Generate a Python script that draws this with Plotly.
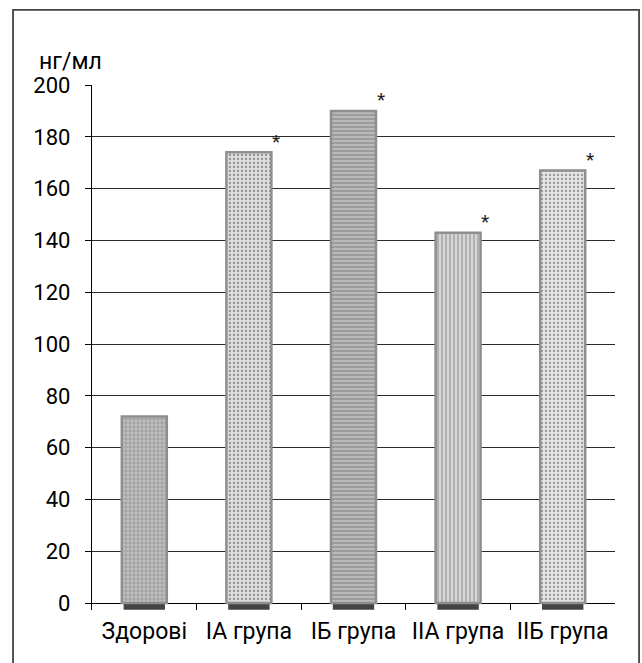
import plotly.graph_objects as go

categories = ["Здорові", "IA група", "IБ група", "IIA група", "IIБ група"]
values = [72, 174, 190, 143, 167]
significant = [False, True, True, True, True]
y_ticks = [0, 20, 40, 60, 80, 100, 120, 140, 160, 180, 200]
unit_label = "нг/мл"

# styles
FONT = "Roboto"
bar_colors = ["#c0c0c0", "#dddddd", "#b9b9b9", "#d6d6d6", "#e5e5e5"]
pattern_fg = ["#a8a8a8", "#cecece", "#a0a0a0", "#c4c4c4", "#d8d8d8"]
pattern_shapes = ["+", ".", "-", "|", "."]
SHADOW_DEPTH = 2.6
Y_BOTTOM = -2.7
BAR_WIDTH = 0.43

fig = go.Figure()

# soft shadow under each bar
fig.add_trace(go.Bar(
    x=categories,
    y=[SHADOW_DEPTH] * len(categories),
    base=[-SHADOW_DEPTH] * len(categories),
    width=BAR_WIDTH * 0.92,
    marker=dict(color="rgba(35,35,35,0.85)", line=dict(width=0)),
    hoverinfo="skip",
    showlegend=False,
))

fig.add_trace(go.Bar(
    x=categories,
    y=values,
    width=BAR_WIDTH,
    marker=dict(
        color=bar_colors,
        line=dict(color="#8e8e8e", width=2.5),
        pattern=dict(
            shape=pattern_shapes,
            fgcolor=pattern_fg,
            fillmode="overlay",
            size=4,
            solidity=0.25,
        ),
    ),
    showlegend=False,
))

annotations = []
for c, v, s in zip(categories, values, significant):
    if s:
        annotations.append(dict(
            x=c, y=v, xref="x", yref="y", text="*", showarrow=False,
            xshift=27, yshift=11, font=dict(family=FONT, size=19, color="#222"),
        ))

annotations.append(dict(
    x=-0.105, y=1.044, xref="paper", yref="paper", text=unit_label,
    showarrow=False, xanchor="left", yanchor="middle",
    font=dict(family=FONT, size=23, color="black"),
))

fig.update_layout(
    width=642, height=663,
    margin=dict(l=92, r=27, t=85, b=53, autoexpand=False),
    paper_bgcolor="white", plot_bgcolor="white",
    barmode="overlay",
    font=dict(family=FONT, size=22, color="black"),
    annotations=annotations,
    shapes=[dict(
        type="rect", xref="paper", yref="paper",
        x0=-0.151, x1=1.046, y0=-0.2, y1=1.143,
        line=dict(color="#444", width=1.8), fillcolor="rgba(0,0,0,0)",
        layer="below",
    )],
)

fig.update_yaxes(
    range=[Y_BOTTOM, 200],
    tickvals=y_ticks,
    automargin=False,
    showgrid=True, gridcolor="#2a2a2a", gridwidth=1.4,
    zeroline=True, zerolinecolor="black", zerolinewidth=1.4,
    showline=True, linecolor="black", linewidth=1.4,
    ticks="outside", ticklen=6, tickcolor="black", tickwidth=1.4,
    ticklabelstandoff=10,
    tickfont=dict(family=FONT, size=22, color="black"),
)

fig.update_xaxes(
    automargin=False,
    tickangle=0,
    showgrid=False, showline=False,
    ticks="inside", tickson="boundaries", ticklen=7, tickcolor="black", tickwidth=1.4,
    tickfont=dict(family=FONT, size=23, color="black"),
    ticklabelstandoff=5,
)

fig.write_html(
    "out.html",
    config={"displayModeBar": False},
    post_script="document.body.style.margin='0';document.body.style.overflow='hidden';",
)
